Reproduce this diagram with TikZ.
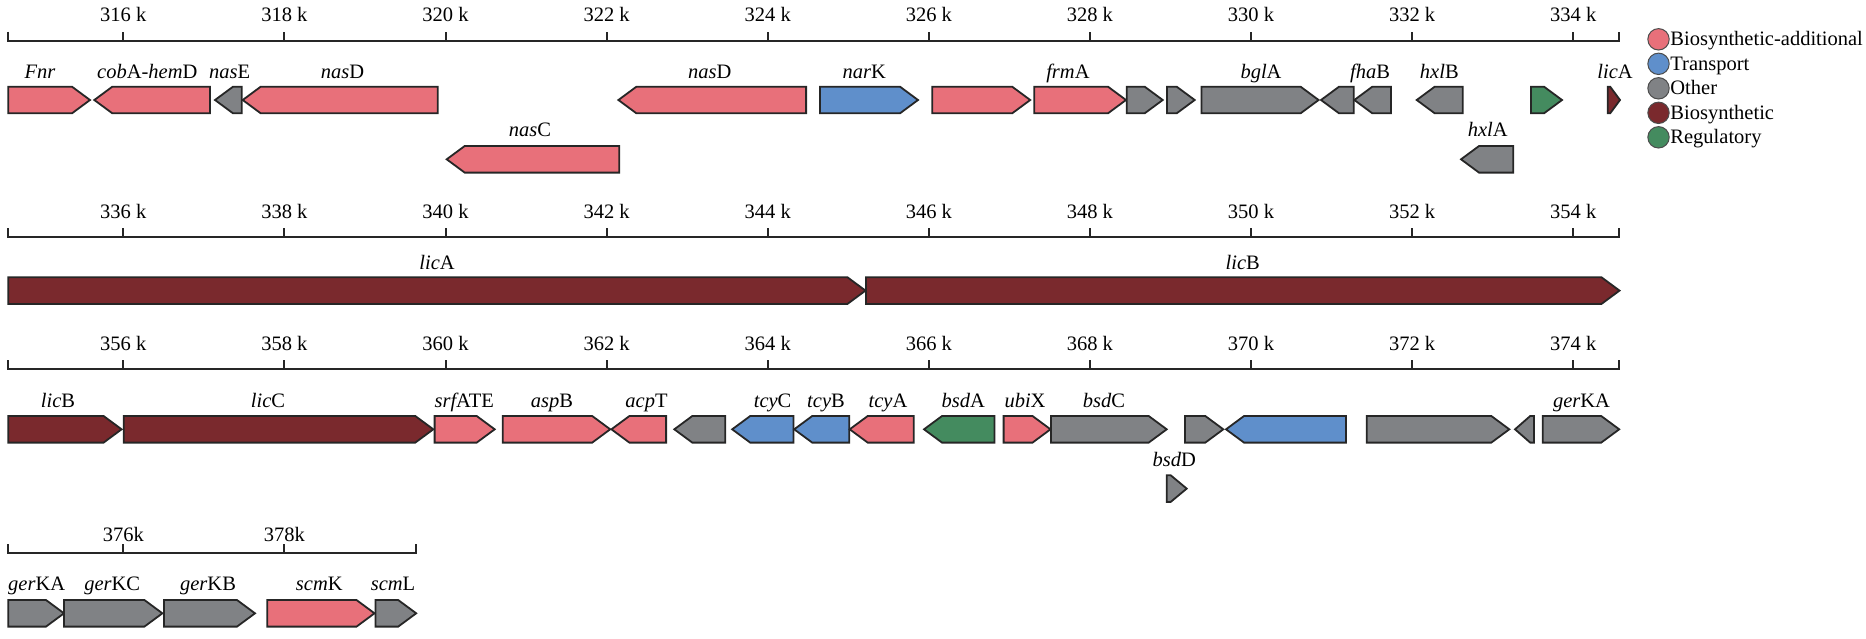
\documentclass[tikz,border=0pt]{standalone}
\usepackage{fontspec}
\setmainfont{Liberation Serif}

\definecolor{bioadd}{HTML}{E8707A}
\definecolor{transp}{HTML}{5F8FCB}
\definecolor{other}{HTML}{808285}
\definecolor{biosyn}{HTML}{7A292D}
\definecolor{regul}{HTML}{448B5F}

% gene arrow: start, end, top, direction (1 = forward, 0 = reverse), colour
\newcommand{\drawgene}[5]{%
  \pgfmathsetmacro{\tp}{min(18,0.8*(#2-#1))}%
  \ifnum#4=1
    \filldraw[gene,fill=#5] (#1,#3) -- ({#2-\tp},#3) -- (#2,{#3+13.3}) -- ({#2-\tp},{#3+26.6}) -- (#1,{#3+26.6}) -- cycle;
  \else
    \filldraw[gene,fill=#5] (#2,#3) -- ({#1+\tp},#3) -- (#1,{#3+13.3}) -- ({#1+\tp},{#3+26.6}) -- (#2,{#3+26.6}) -- cycle;
  \fi}

\begin{document}
\begin{tikzpicture}[
    x=0.5pt, y=-0.5pt,
    font=\fontsize{10.25pt}{12pt}\selectfont,
    gene/.style={draw=black!85, line width=0.9pt, line join=miter},
    axisline/.style={draw=black!85, line width=1pt},
    ticklabel/.style={anchor=base, inner sep=0pt},
    glabel/.style={anchor=base, inner sep=0pt},
    legdot/.style={draw=black!70, line width=0.5pt},
    legtext/.style={anchor=base west, inner sep=0pt}
]
    \useasboundingbox (0,0) rectangle (1866,638);

    % axes, 2 kb between ticks
    \foreach \ya/\kfirst/\row in {40.7/316/a, 237.3/336/b, 369.3/356/c} {
        \draw[axisline] (8.3,{\ya-9}) -- (8.3,\ya) -- (1619.3,\ya) -- (1619.3,{\ya-9});
        \foreach \i in {0,...,9} {
            \pgfmathtruncatemacro{\kb}{\kfirst+2*\i}
            \draw[axisline] ({123.3+161.1*\i},\ya) -- ++(0,-9);
            \node[ticklabel] (t\row\i) at ({123.3+161.1*\i},{\ya-19}) {\kb~k};
        }
    }
    \draw[axisline] (8.3,544.3) -- (8.3,553.3) -- (416.2,553.3) -- (416.2,544.3);
    \foreach \kb [count=\i from 0] in {376,378} {
        \draw[axisline] ({123.3+161.1*\i},553.3) -- ++(0,-9);
        \node[ticklabel] (td\i) at ({123.3+161.1*\i},541.5) {\kb k};
    }

    % genes, row 1
    \foreach \xa/\xb/\dir/\col in {8.3/90/1/bioadd, 94.3/210/0/bioadd, 215/241.7/0/other,
        242.7/437.7/0/bioadd, 618.4/806.1/0/bioadd, 820/918/1/transp, 932.2/1030.2/1/bioadd,
        1034.3/1126/1/bioadd, 1126.8/1162.7/1/other, 1166.9/1194.7/1/other, 1201.4/1318.6/1/other,
        1321/1353.8/0/other, 1354.3/1391/0/other, 1416.7/1462.7/0/other, 1531/1562/1/regul,
        1607.7/1620/1/biosyn} {
        \drawgene{\xa}{\xb}{86.7}{\dir}{\col}
    }
    \drawgene{446.7}{619.2}{146}{0}{bioadd}
    \drawgene{1461}{1513.3}{146}{0}{other}

    % genes, row 2
    \drawgene{8.3}{865.5}{277.3}{1}{biosyn}
    \drawgene{866}{1619.5}{277.3}{1}{biosyn}

    % genes, row 3
    \foreach \xa/\xb/\dir/\col in {8.3/121.6/1/biosyn, 123.7/433.3/1/biosyn, 434.6/494.7/1/bioadd,
        502.8/610.2/1/bioadd, 611.4/666.1/0/bioadd, 674.3/725.3/0/other, 732.2/793.4/0/transp,
        794.2/849.3/0/transp, 849.7/913.8/0/bioadd, 924/994.5/0/regul, 1003.6/1050.5/1/bioadd,
        1051/1166.7/1/other, 1185/1223.3/1/other, 1226/1346/0/transp, 1366.7/1509.3/1/other,
        1515/1534/0/other, 1542.7/1619.2/1/other} {
        \drawgene{\xa}{\xb}{416}{\dir}{\col}
    }
    \drawgene{1166.7}{1186.7}{475.3}{1}{other}

    % genes, row 4
    \foreach \xa/\xb/\dir/\col in {8.3/64/1/other, 64/162.4/1/other, 164/255/1/other,
        267.2/374.5/1/bioadd, 375.4/416.2/1/other} {
        \drawgene{\xa}{\xb}{600}{\dir}{\col}
    }

    % gene names
    \foreach \x/\y/\name [count=\n] in {40/78.3/\textit{Fnr}, 147.3/78.3/\textit{cob}A-\textit{hem}D,
        229.7/78.3/\textit{nas}E, 342.5/78.3/\textit{nas}D, 709.8/78.3/\textit{nas}D,
        864.3/78.3/\textit{nar}K, 1067.9/78.3/\textit{frm}A, 1261/78.3/\textit{bgl}A,
        1370/78.3/\textit{fha}B, 1439.3/78.3/\textit{hxl}B, 1615/78.3/\textit{lic}A,
        530/136.7/\textit{nas}C, 1487.7/136.7/\textit{hxl}A,
        437/269.3/\textit{lic}A, 1242.8/269.3/\textit{lic}B,
        58/407.3/\textit{lic}B, 268/407.3/\textit{lic}C, 464.2/407.3/{\itshape srf}ATE,
        552/407.3/\textit{asp}B, 646.5/407.3/\textit{acp}T, 772.6/407.3/\textit{tcy}C,
        826/407.3/\textit{tcy}B, 888/407.3/\textit{tcy}A, 963.3/407.3/\textit{bsd}A,
        1025/407.3/\textit{ubi}X, 1104/407.3/\textit{bsd}C, 1581.5/407.3/\textit{ger}KA,
        1174.3/466/\textit{bsd}D,
        36.7/590.7/\textit{ger}KA, 112.2/590.7/\textit{ger}KC, 208/590.7/\textit{ger}KB,
        319.3/590.7/\textit{scm}K, 393/590.7/\textit{scm}L} {
        \node[glabel] (g\n) at (\x,\y) {\name};
    }

    % legend
    \foreach \col/\txt [count=\n from 0] in {bioadd/Biosynthetic-additional, transp/Transport,
        other/Other, biosyn/Biosynthetic, regul/Regulatory} {
        \filldraw[legdot, fill=\col] (1658.5,{39.3+24.5*\n}) circle[radius=5.35pt];
        \node[legtext] (leg\n) at (1670,{45.7+24.5*\n}) {\txt};
    }
\end{tikzpicture}
\end{document}
